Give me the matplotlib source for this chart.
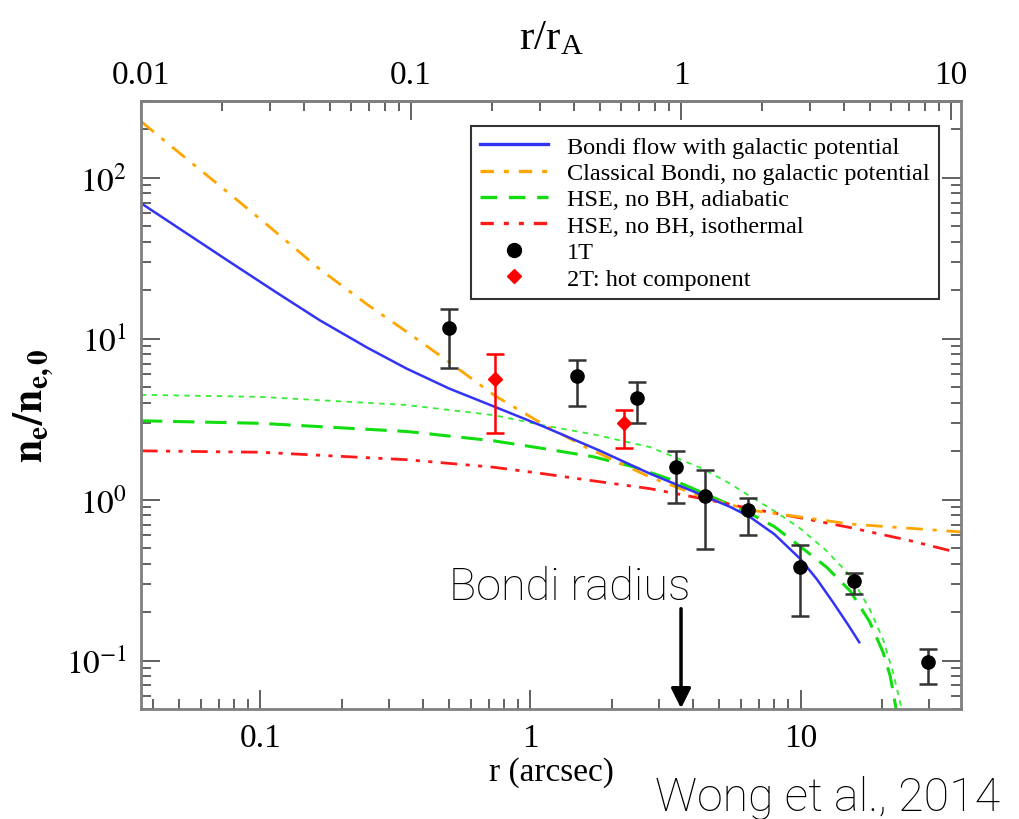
import matplotlib
matplotlib.use('Agg')
import matplotlib.pyplot as plt
from matplotlib.lines import Line2D
from matplotlib.ticker import FixedLocator, FixedFormatter, LogLocator, NullFormatter
import numpy as np

plt.rcParams['font.family'] = ['Liberation Serif', 'DejaVu Serif']
plt.rcParams['mathtext.fontset'] = 'stix'

r_A = 3.61  # Bondi radius in arcsec

# model curves (r in arcsec, n_e/n_e0)
r_bondi_gal = [0.0361, 0.0772, 0.115, 0.166, 0.25, 0.349, 0.5, 0.727, 1.11, 1.8, 2.77,
               4.25, 5.5, 6.5, 8.0, 9.96, 11.5, 13.2, 15.0, 16.5]
n_bondi_gal = [69.5, 29.9, 19.3, 13.0, 8.75, 6.5, 4.9, 3.81, 2.86, 2.02, 1.45,
               1.08, 0.9, 0.78, 0.61, 0.43, 0.32, 0.23, 0.167, 0.13]

r_classic = [0.0361, 0.05, 0.0772, 0.11, 0.166, 0.25, 0.349, 0.5, 0.74, 1.11, 1.6,
             2.77, 4.25, 6.5, 10, 15.3, 39.3]
n_classic = [224, 143, 79, 48.3, 27, 16.2, 11.0, 7.15, 4.41, 2.95, 2.12,
             1.38, 1.05, 0.86, 0.78, 0.705, 0.63]

r_adiab = [0.0361, 0.1, 0.349, 0.73, 1.11, 1.7, 2.40, 3.46, 4.25, 6.5, 8.0, 10,
           12.5, 15.3, 18.0, 20.2, 21.5, 22.6]
n_adiab = [3.09, 2.98, 2.65, 2.32, 2.08, 1.85, 1.6, 1.3, 1.12, 0.82, 0.68, 0.51,
           0.38, 0.27, 0.175, 0.113, 0.08, 0.05]

r_adiab2 = [0.0361, 0.1, 0.349, 0.73, 1.11, 1.7, 2.77, 3.46, 4.25, 5.3, 6.5, 8.0,
            10, 12.5, 15.3, 18.0, 20.2, 22.0, 23.7]
n_adiab2 = [4.48, 4.35, 3.87, 3.35, 2.9, 2.55, 2.12, 1.82, 1.58, 1.3, 1.05, 0.85,
            0.66, 0.48, 0.335, 0.21, 0.136, 0.085, 0.05]

r_iso = [0.0361, 0.1, 0.349, 0.73, 1.11, 1.7, 2.77, 4.25, 6.5, 10, 15.3, 25, 38.0]
n_iso = [2.01, 1.97, 1.77, 1.59, 1.45, 1.31, 1.17, 1.02, 0.88, 0.77, 0.67, 0.56, 0.47]

# data points
r_1t = [0.50, 1.49, 2.48, 3.46, 4.43, 6.39, 9.96, 15.8, 29.7]
n_1t = [11.6, 5.9, 4.3, 1.59, 1.05, 0.86, 0.38, 0.31, 0.098]
lo_1t = [6.6, 3.8, 3.0, 0.95, 0.49, 0.60, 0.19, 0.26, 0.072]
hi_1t = [15.2, 7.4, 5.4, 2.0, 1.52, 1.02, 0.52, 0.35, 0.118]

r_2t = [0.74, 2.22]
n_2t = [5.6, 3.0]
lo_2t = [2.6, 2.1]
hi_2t = [8.0, 3.6]

labels = ['Bondi flow with galactic potential',
          'Classical Bondi, no galactic potential',
          'HSE, no BH, adiabatic',
          'HSE, no BH, isothermal',
          '1T',
          '2T: hot component']

fig = plt.figure(figsize=(10.2, 8.2), dpi=100)
ax = fig.add_axes([141/1020, 110/820, 820/1020, 608/820])

c_blue = '#3333f5'
c_orange = '#ffa500'
c_green = '#11dd11'
c_red = '#ff1a1a'

ax.plot(r_adiab2, n_adiab2, color='#33ee33', lw=1.3, dashes=(3, 3))
ax.plot(r_adiab, n_adiab, color=c_green, lw=2.2, dashes=(7, 3.5))
ax.plot(r_iso, n_iso, color=c_red, lw=2.0, dashes=(6, 3, 1.5, 3, 1.5, 3))
ax.plot(r_classic, n_classic, color=c_orange, lw=2.0, dashes=(6, 3.5, 1.5, 3.5))
ax.plot(r_bondi_gal, n_bondi_gal, color=c_blue, lw=1.8)

err_1t = [np.array(n_1t) - np.array(lo_1t), np.array(hi_1t) - np.array(n_1t)]
ax.errorbar(r_1t, n_1t, yerr=err_1t, fmt='o', color='black', ms=9.5,
            ecolor='#333333', elinewidth=1.8, capsize=6.5, capthick=1.8, zorder=5)
err_2t = [np.array(n_2t) - np.array(lo_2t), np.array(hi_2t) - np.array(n_2t)]
ax.errorbar(r_2t, n_2t, yerr=err_2t, fmt='D', color='red', ms=7,
            ecolor='red', elinewidth=1.8, capsize=6.5, capthick=1.8, zorder=5)

ax.set_xscale('log')
ax.set_yscale('log')
ax.set_xlim(0.0361, 39.3)
ax.set_ylim(0.05, 300)

ax.xaxis.set_major_locator(FixedLocator([0.1, 1, 10]))
ax.xaxis.set_major_formatter(FixedFormatter(['0.1', '1', '10']))
ax.xaxis.set_minor_locator(LogLocator(base=10, subs=np.arange(2, 10)))
ax.xaxis.set_minor_formatter(NullFormatter())
ax.yaxis.set_major_locator(FixedLocator([0.1, 1, 10, 100]))
ax.yaxis.set_major_formatter(FixedFormatter([r'$10^{-1}$', r'$10^{0}$', r'$10^{1}$', r'$10^{2}$']))
ax.yaxis.set_minor_locator(LogLocator(base=10, subs=np.arange(2, 10)))
ax.yaxis.set_minor_formatter(NullFormatter())

ax.tick_params(which='both', direction='in', color='#555555', width=1.3,
               labelsize=24, left=True, right=True, bottom=True, top=False)
ax.tick_params(which='major', length=14, pad=10)
ax.tick_params(which='minor', length=7)

sec = ax.secondary_xaxis('top', functions=(lambda r: r / r_A, lambda q: q * r_A))
sec.xaxis.set_major_locator(FixedLocator([0.01, 0.1, 1, 10]))
sec.xaxis.set_major_formatter(FixedFormatter(['0.01', '0.1', '1', '10']))
sec.xaxis.set_minor_locator(LogLocator(base=10, subs=np.arange(2, 10)))
sec.xaxis.set_minor_formatter(NullFormatter())
sec.tick_params(which='both', direction='in', color='#555555', width=1.3, labelsize=24)
sec.tick_params(which='major', length=14, pad=8)
sec.tick_params(which='minor', length=7)
sec.set_xlabel(r'r/r$_\mathregular{A}$', fontsize=31, labelpad=8)
sec.spines['top'].set_color('#808080')
sec.spines['top'].set_linewidth(2)

for s in ax.spines.values():
    s.set_color('#808080')
    s.set_linewidth(2)

ax.set_xlabel('r (arcsec)', fontsize=24, labelpad=2)
ax.set_ylabel(r'$\mathbf{n_e/n_{e,0}}$', fontsize=30, labelpad=8)

handles = [
    Line2D([], [], color=c_blue, lw=2.4),
    Line2D([], [], color=c_orange, lw=2.4, dashes=(4, 3, 1.5, 3)),
    Line2D([], [], color=c_green, lw=2.4, dashes=(5, 3.5)),
    Line2D([], [], color=c_red, lw=2.4, dashes=(4, 3, 1.5, 3, 1.5, 3)),
    Line2D([], [], color='black', marker='o', ls='none', ms=10),
    Line2D([], [], color='red', marker='D', ls='none', ms=7.5),
]
leg = ax.legend(handles, labels, loc='upper right', bbox_to_anchor=(0.973, 0.959),
                borderaxespad=0, fontsize=17.5, handlelength=2.8, handletextpad=0.75,
                labelspacing=0.18, fancybox=False, framealpha=1, edgecolor='#333333',
                borderpad=0.4)
leg.get_frame().set_linewidth(1.5)

# Bondi radius marker
ax.annotate('', xy=(r_A, 0.0505), xytext=(r_A, 0.21),
            arrowprops=dict(arrowstyle='-|>', color='black', lw=2.5,
                            mutation_scale=30, shrinkA=0, shrinkB=0))
fig.text(690/1020, (820-600)/820, 'Bondi radius', ha='right', va='baseline',
         fontsize=32.5, family=['Roboto', 'DejaVu Sans'], fontweight='light')
fig.text(1000/1020, (820-811)/820, 'Wong et al., 2014', ha='right', va='baseline',
         fontsize=33.5, family=['Roboto', 'DejaVu Sans'], fontweight='light')

fig.savefig('out.png', dpi=100)
